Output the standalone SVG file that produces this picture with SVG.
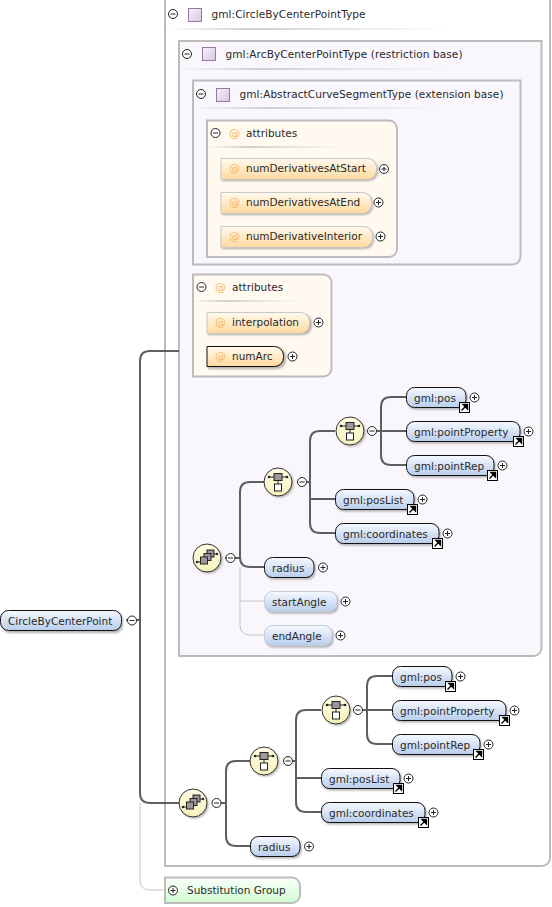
<svg xmlns="http://www.w3.org/2000/svg" xmlns:xlink="http://www.w3.org/1999/xlink" width="552" height="907" viewBox="0 0 552 907">
<style>
text{font-family:"DejaVu Sans","Liberation Sans",sans-serif;font-size:10.5px;fill:#2a2a2a}
.box{stroke:#bcbcbc;stroke-width:2}
.outer{fill:#fff}.arc{fill:#f9f6fc}.attrs{fill:#fff9ef}
.c{fill:none;stroke:#5f5f5f;stroke-width:2}
.o{fill:none;stroke:#c4c4c4;stroke-width:1}
.el{fill:url(#elG);stroke:#111;stroke-width:1}
.opt{fill:url(#elG);stroke:#c3cbd6;stroke-width:1}
.at{fill:url(#atG);stroke:#c8c8c8;stroke-width:1}
.atr{fill:url(#atG);stroke:#111;stroke-width:1}
.sh{fill:#555;opacity:.45;filter:url(#blur)}
.sq{fill:url(#sqG);stroke:#9a76a8;stroke-width:1}
.cir{fill:url(#seqG);stroke:#333;stroke-width:1}
.at-sign{fill:#f2b75e;font-size:11px}
</style>
<defs>
<filter id="blur" x="-20%" y="-40%" width="140%" height="180%"><feGaussianBlur stdDeviation="1.2"/></filter>
<linearGradient id="elG" x1="0" y1="0" x2="0" y2="1"><stop offset="0" stop-color="#f6f9fe"/><stop offset="1" stop-color="#b8cdec"/></linearGradient>
<linearGradient id="atG" x1="0" y1="0" x2="0" y2="1"><stop offset="0" stop-color="#fffaf0"/><stop offset="1" stop-color="#ffd99f"/></linearGradient>
<linearGradient id="sqG" x1="0" y1="0" x2="1" y2="1"><stop offset="0" stop-color="#f6f2f9"/><stop offset="1" stop-color="#d8c8e2"/></linearGradient>
<linearGradient id="seqG" x1="0" y1="0" x2="0" y2="1"><stop offset="0" stop-color="#fffde4"/><stop offset="1" stop-color="#f7f1bd"/></linearGradient>
<linearGradient id="grG" x1="0" y1="0" x2="0" y2="1"><stop offset="0" stop-color="#fbfffb"/><stop offset="1" stop-color="#d0fbd0"/></linearGradient>
<linearGradient id="sepG" x1="0" y1="0" x2="1" y2="0"><stop offset="0" stop-color="#d0d0d0" stop-opacity="0"/><stop offset=".3" stop-color="#cfcfcf"/><stop offset="1" stop-color="#d8d8d8" stop-opacity="0"/></linearGradient>
<g id="minus"><circle r="4.5" fill="#fff" stroke="#222" stroke-width="1"/><path d="M-2.5 0H2.5" stroke="#222" stroke-width="1"/></g>
<g id="plus"><circle r="4.5" fill="#fff" stroke="#222" stroke-width="1"/><path d="M-2.5 0H2.5M0-2.5V2.5" stroke="#222" stroke-width="1"/></g>
<g id="link"><rect x=".5" y=".5" width="10" height="10" fill="#fff" stroke="#000"/><path d="M2.5 8.5L6 5M4 2.5H8.5V7Z" fill="#000" stroke="#000" stroke-width="1.4"/></g>
<g id="seq"><circle cx="1.5" cy="1.5" r="14" class="sh"/><circle r="14" class="cir"/><path d="M-9-5H9" stroke="#222"/><circle cx="-9" cy="-5" r="1.3" fill="#222"/><circle cx="9" cy="-5" r="1.3" fill="#222"/><rect x="-4" y="-8.500" width="8" height="7" fill="#999" stroke="#222"/><path d="M0-1.500V2" stroke="#222"/><rect x="-3.500" y="2" width="7" height="7" fill="#fff" stroke="#222"/></g>
<g id="cho"><circle cx="1.5" cy="1.5" r="14" class="sh"/><circle r="14" class="cir"/><path d="M-10 4H-5M5-4H10" stroke="#222"/><circle cx="-10" cy="4" r="1.2" fill="#222"/><circle cx="10" cy="-4" r="1.2" fill="#222"/><rect x="0" y="-8" width="7" height="7" fill="#999" stroke="#222"/><rect x="-3" y="-4.500" width="7" height="7" fill="#999" stroke="#222"/><rect x="-6.500" y="-1" width="7" height="7" fill="#999" stroke="#222"/></g>
</defs>
<rect width="552" height="907" fill="#fff"/>

<g id="type-circle">
<path d="M165-1H550V858a8 8 0 0 1-8 8H165Z" class="box outer"/>
<rect x="165" y="28" width="290" height="2" fill="url(#sepG)"/>
<use xlink:href="#minus" href="#minus" x="173" y="14"/>
<rect x="188.500" y="8.500" width="13" height="13" class="sq"/>
<text x="211.500" y="18" textLength="154" lengthAdjust="spacing">gml:CircleByCenterPointType</text>
</g>
<g id="type-arc">
<path d="M179 41H541.500V648a8 8 0 0 1-8 8H179Z" class="box arc"/>
<rect x="179" y="68" width="276" height="2" fill="url(#sepG)"/>
<use xlink:href="#minus" href="#minus" x="187" y="54"/>
<rect x="202.500" y="47.500" width="13" height="13" class="sq"/>
<text x="225.500" y="58" textLength="237" lengthAdjust="spacing">gml:ArcByCenterPointType (restriction base)</text>
</g>
<g id="type-abstract">
<path d="M193 80.500H520.500V256.500a8 8 0 0 1-8 8H193Z" class="box arc"/>
<rect x="193" y="107" width="250" height="2" fill="url(#sepG)"/>
<use xlink:href="#minus" href="#minus" x="201" y="94"/>
<rect x="216.500" y="88.500" width="13" height="13" class="sq"/>
<text x="239.500" y="98" textLength="264" lengthAdjust="spacing">gml:AbstractCurveSegmentType (extension base)</text>
</g>
<g id="attrs-1">
<path d="M207 120.500H389a8 8 0 0 1 8 8V249a8 8 0 0 1-8 8H207Z" class="box attrs"/>
<rect x="207" y="146" width="140" height="2" fill="url(#sepG)"/>
<use xlink:href="#minus" href="#minus" x="215.500" y="133"/>
<text x="229" y="137" class="at-sign">@</text>
<text x="246" y="137">attributes</text>
</g>
<g id="attrs-2">
<path d="M193 274.500H323.500a8 8 0 0 1 8 8V368.500a8 8 0 0 1-8 8H193Z" class="box attrs"/>
<rect x="193" y="300" width="110" height="2" fill="url(#sepG)"/>
<use xlink:href="#minus" href="#minus" x="201.500" y="287"/>
<text x="215" y="291" class="at-sign">@</text>
<text x="232" y="291">attributes</text>
</g>

<g id="connectors">
<path class="c" d="M126 620H140M179 351H150Q140 351 140 361V793Q140 803 150 803H179"/>
<path class="o" d="M140 803V880Q140 890 150 890H165"/>
<path class="c" d="M225 558H240M264 482H250Q240 482 240 492V557Q240 567 250 567H264"/>
<path class="o" d="M240 567V625Q240 635 250 635H264M240 601H264"/>
<path class="c" d="M307 482H310M335 431H320Q310 431 310 441V523Q310 533 320 533H335M310 499H335"/>
<path class="c" d="M377 431H406M406 397H391Q381 397 381 407V455Q381 465 391 465H406"/>
<path class="c" d="M221 803H226M250 761H236Q226 761 226 771V836Q226 846 236 846H250"/>
<path class="c" d="M293 761H296M321 710H306Q296 710 296 720V802Q296 812 306 812H321M296 778H321"/>
<path class="c" d="M363 710H392M392 676H377Q367 676 367 686V734Q367 744 377 744H392"/>
</g>

<g id="n-root"><rect x="2" y="612" width="121" height="21" rx="8" class="sh"/><rect x=".5" y="610.500" width="121" height="20" rx="8" class="el"/><text x="8" y="624.500">CircleByCenterPoint</text><use xlink:href="#minus" href="#minus" x="132" y="620.500"/></g>

<g id="n-start"><path class="sh" d="M222 160H369a9 9 0 0 1 9 9v3a9 9 0 0 1-9 9H222Z"/><path class="at" d="M221 158.500H367.500a9 9 0 0 1 9 9v3a9 9 0 0 1-9 9H221Z"/><text x="229" y="172" class="at-sign">@</text><text x="246" y="172">numDerivativesAtStart</text><use xlink:href="#plus" href="#plus" x="384" y="169"/></g>
<g id="n-end"><path class="sh" d="M222 194H364a9 9 0 0 1 9 9v3a9 9 0 0 1-9 9H222Z"/><path class="at" d="M221 192.500H362.500a9 9 0 0 1 9 9v3a9 9 0 0 1-9 9H221Z"/><text x="229" y="206" class="at-sign">@</text><text x="246" y="206">numDerivativesAtEnd</text><use xlink:href="#plus" href="#plus" x="378.500" y="202.500"/></g>
<g id="n-interior"><path class="sh" d="M222 228H365a9 9 0 0 1 9 9v3a9 9 0 0 1-9 9H222Z"/><path class="at" d="M221 226.500H363.500a9 9 0 0 1 9 9v3a9 9 0 0 1-9 9H221Z"/><text x="229" y="240" class="at-sign">@</text><text x="246" y="240">numDerivativeInterior</text><use xlink:href="#plus" href="#plus" x="380.500" y="236.500"/></g>
<g id="n-interpolation"><path class="sh" d="M208 314H303a9 9 0 0 1 9 9v3a9 9 0 0 1-9 9H208Z"/><path class="at" d="M207 312.500H300.500a9 9 0 0 1 9 9v3a9 9 0 0 1-9 9H207Z"/><text x="215" y="326" class="at-sign">@</text><text x="232" y="326">interpolation</text><use xlink:href="#plus" href="#plus" x="318.500" y="322.500"/></g>
<g id="n-numarc"><path class="sh" d="M208 348H277a9 9 0 0 1 9 9v3a9 9 0 0 1-9 9H208Z"/><path class="atr" d="M207 346.500H274.500a9 9 0 0 1 9 9v2a9 9 0 0 1-9 9H207Z"/><text x="215" y="360" class="at-sign">@</text><text x="232" y="360">numArc</text><use xlink:href="#plus" href="#plus" x="292.500" y="356.500"/></g>

<g id="g-choice-1"><use xlink:href="#cho" href="#cho" x="207" y="558"/><use xlink:href="#minus" href="#minus" x="230.500" y="558"/></g>
<g id="g-seq-1"><use xlink:href="#seq" href="#seq" x="278" y="482"/><use xlink:href="#minus" href="#minus" x="302" y="482"/></g>
<g id="g-seq-2"><use xlink:href="#seq" href="#seq" x="350" y="431"/><use xlink:href="#minus" href="#minus" x="372" y="431"/></g>

<g id="n-pos-1"><rect x="407.500" y="389" width="60" height="20.500" rx="8" class="sh"/><rect x="406.500" y="387.500" width="59.500" height="20" rx="8" class="el"/><text x="414" y="401.500">gml:pos</text><use xlink:href="#link" href="#link" x="459" y="402"/><use xlink:href="#plus" href="#plus" x="474.500" y="397.500"/></g>
<g id="n-prop-1"><rect x="407.500" y="423" width="114" height="20.500" rx="8" class="sh"/><rect x="406.500" y="421.500" width="113.500" height="20" rx="8" class="el"/><text x="414" y="435.500">gml:pointProperty</text><use xlink:href="#link" href="#link" x="513" y="436"/><use xlink:href="#plus" href="#plus" x="528.500" y="431.500"/></g>
<g id="n-rep-1"><rect x="407.500" y="457" width="88" height="20.500" rx="8" class="sh"/><rect x="406.500" y="455.500" width="87.500" height="20" rx="8" class="el"/><text x="414" y="469.500">gml:pointRep</text><use xlink:href="#link" href="#link" x="487" y="470"/><use xlink:href="#plus" href="#plus" x="502.500" y="465.500"/></g>
<g id="n-list-1"><rect x="336.500" y="491" width="79" height="20.500" rx="8" class="sh"/><rect x="335.500" y="489.500" width="78.500" height="20" rx="8" class="el"/><text x="343" y="503.500">gml:posList</text><use xlink:href="#link" href="#link" x="407" y="504"/><use xlink:href="#plus" href="#plus" x="422.500" y="499.500"/></g>
<g id="n-coord-1"><rect x="336.500" y="525" width="104" height="20.500" rx="8" class="sh"/><rect x="335.500" y="523.500" width="103.500" height="20" rx="8" class="el"/><text x="343" y="537.500">gml:coordinates</text><use xlink:href="#link" href="#link" x="432" y="538"/><use xlink:href="#plus" href="#plus" x="447.500" y="533.500"/></g>
<g id="n-radius-1"><rect x="265.500" y="559" width="50" height="20.500" rx="8" class="sh"/><rect x="264.500" y="557.500" width="49.500" height="20" rx="8" class="el"/><text x="272" y="571.500">radius</text><use xlink:href="#plus" href="#plus" x="323" y="567.500"/></g>
<g id="n-start-angle"><rect x="265.500" y="593" width="73" height="20.500" rx="8" class="sh" opacity=".3"/><rect x="264.500" y="591.500" width="72.500" height="20" rx="8" class="opt"/><text x="272" y="605.500">startAngle</text><use xlink:href="#plus" href="#plus" x="345.500" y="601.500"/></g>
<g id="n-end-angle"><rect x="265.500" y="627" width="68" height="20.500" rx="8" class="sh" opacity=".3"/><rect x="264.500" y="625.500" width="67.500" height="20" rx="8" class="opt"/><text x="272" y="639.500">endAngle</text><use xlink:href="#plus" href="#plus" x="340.500" y="635.500"/></g>

<g id="g-choice-2"><use xlink:href="#cho" href="#cho" x="193" y="803"/><use xlink:href="#minus" href="#minus" x="216.500" y="803"/></g>
<g id="g-seq-3"><use xlink:href="#seq" href="#seq" x="264" y="761"/><use xlink:href="#minus" href="#minus" x="288" y="761"/></g>
<g id="g-seq-4"><use xlink:href="#seq" href="#seq" x="336" y="710"/><use xlink:href="#minus" href="#minus" x="358" y="710"/></g>

<g id="n-pos-2"><rect x="393.500" y="668" width="60" height="20.500" rx="8" class="sh"/><rect x="392.500" y="666.500" width="59.500" height="20" rx="8" class="el"/><text x="400" y="680.500">gml:pos</text><use xlink:href="#link" href="#link" x="445" y="681"/><use xlink:href="#plus" href="#plus" x="460.500" y="676.500"/></g>
<g id="n-prop-2"><rect x="393.500" y="702" width="114" height="20.500" rx="8" class="sh"/><rect x="392.500" y="700.500" width="113.500" height="20" rx="8" class="el"/><text x="400" y="714.500">gml:pointProperty</text><use xlink:href="#link" href="#link" x="499" y="715"/><use xlink:href="#plus" href="#plus" x="514.500" y="710.500"/></g>
<g id="n-rep-2"><rect x="393.500" y="736" width="88" height="20.500" rx="8" class="sh"/><rect x="392.500" y="734.500" width="87.500" height="20" rx="8" class="el"/><text x="400" y="748.500">gml:pointRep</text><use xlink:href="#link" href="#link" x="473" y="749"/><use xlink:href="#plus" href="#plus" x="488.500" y="744.500"/></g>
<g id="n-list-2"><rect x="322.500" y="770" width="79" height="20.500" rx="8" class="sh"/><rect x="321.500" y="768.500" width="78.500" height="20" rx="8" class="el"/><text x="329" y="782.500">gml:posList</text><use xlink:href="#link" href="#link" x="393" y="783"/><use xlink:href="#plus" href="#plus" x="408.500" y="778.500"/></g>
<g id="n-coord-2"><rect x="322.500" y="804" width="104" height="20.500" rx="8" class="sh"/><rect x="321.500" y="802.500" width="103.500" height="20" rx="8" class="el"/><text x="329" y="816.500">gml:coordinates</text><use xlink:href="#link" href="#link" x="418" y="817"/><use xlink:href="#plus" href="#plus" x="433.500" y="812.500"/></g>
<g id="n-radius-2"><rect x="251.500" y="838" width="50" height="20.500" rx="8" class="sh"/><rect x="250.500" y="836.500" width="49.500" height="20" rx="8" class="el"/><text x="258" y="850.500">radius</text><use xlink:href="#plus" href="#plus" x="309" y="846.500"/></g>

<g id="n-subst"><path d="M165 877.500H292a8 8 0 0 1 8 8V895a8 8 0 0 1-8 8H165Z" fill="url(#grG)" stroke="#bcbcbc" stroke-width="2"/><use xlink:href="#plus" href="#plus" x="173" y="890.500"/><text x="187" y="894">Substitution Group</text></g>
</svg>
